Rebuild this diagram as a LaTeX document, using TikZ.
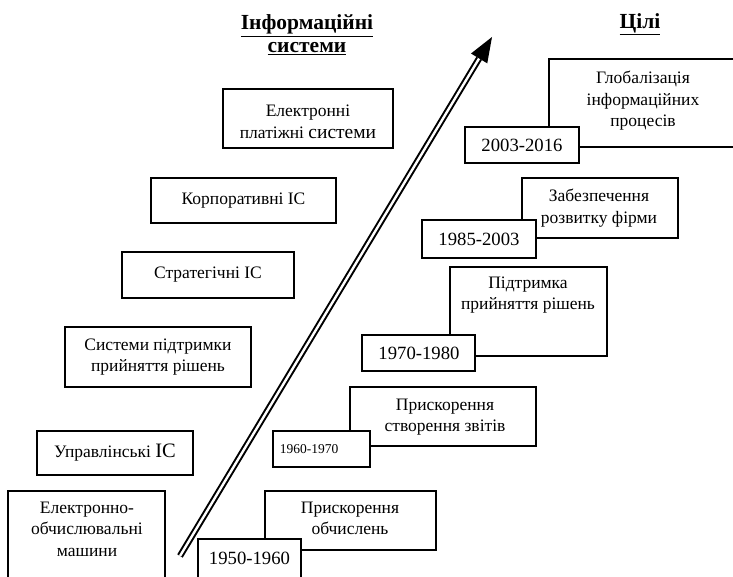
\documentclass[tikz,border=0pt]{standalone}
\usepackage{fontspec}
\setmainfont{Liberation Serif}
\usetikzlibrary{calc,fit}
\begin{document}
\begin{tikzpicture}[x=1pt,y=-1pt,
  box/.style={draw, line width=1.8pt, fill=white, rectangle, inner sep=0pt},
  txt/.style={align=center, font=\fontsize{17.5}{21.5}\selectfont, inner sep=0pt},
  datetxt/.style={font=\fontsize{18.7}{22}\selectfont, inner sep=0pt},
  smalldate/.style={font=\fontsize{13.5}{16}\selectfont, inner sep=0pt},
  head/.style={align=center, font=\fontsize{21.5}{23}\selectfont\bfseries, inner sep=0pt},
  growth/.style={line width=2pt, double distance=2.4pt}]
\useasboundingbox (0,0) rectangle (733,577);
\clip (0,0) rectangle (733,577);

% column headings
\node[head] (hIS) at (307,35) {\underline{Інформаційні}\\\underline{системи}};
\node[head] (hG) at (640,24) {\underline{Цілі}};

% information systems, bottom to top
\node[box, fit={(8,491) (165,600)}] (eom) {};
\node[txt] (eomT) at (87,529) {Електронно-\\обчислювальні\\машини};
\node[box, fit={(37,431) (193,475)}] (mis) {};
\node[txt] (misT) at (115,453) {Управлінські {\fontsize{20.5}{21}\selectfont ІС}};
\node[box, fit={(65,327) (251,387)}] (dss) {};
\node[txt] (dssT) at (158,357) {Системи підтримки\\прийняття рішень};
\node[box, fit={(122,252) (294,298)}] (strat) {};
\node[txt] (stratT) at (208,275) {Стратегічні ІС};
\node[box, fit={(151,178) (336,223)}] (corp) {};
\node[txt] (corpT) at (243.5,200.5) {Корпоративні ІС};
\node[box, fit={(223,89) (393,148)}] (eps) {};
\node[txt] (epsT) at (308,122) {Електронні\\платіжні {\fontsize{19.5}{21.5}\selectfont системи}};

% growth arrow
\coordinate (aS) at (180,556);
\coordinate (aT) at (492,37);
\coordinate (aB) at ($(aT)!25pt!(aS)$);
\draw[growth] (aS) -- (aB);
\fill ($(aB)!9.5pt!90:(aT)$) -- (aT) -- ($(aB)!9.5pt!-90:(aT)$) -- cycle;

% goals with their periods
\node[box, fit={(265,491) (436,550)}] (g1) {};
\node[txt] (g1T) at (350,518.5) {Прискорення\\обчислень};
\node[box, fit={(198,539) (301,600)}] (d1) {};
\node[datetxt] (d1T) at (249.5,558) {1950-1960};

\node[box, fit={(350,387) (536,446)}] (g2) {};
\node[txt] (g2T) at (445,417) {Прискорення\\створення звітів};
\node[box, fit={(273,431) (370,467)}] (d2) {};
\node[smalldate] (d2T) at (309,449) {1960-1970};

\node[box, fit={(450,267) (607,356)}] (g3) {};
\node[txt] (g3T) at (528,295) {Підтримка\\прийняття рішень};
\node[box, fit={(362,335) (475,371)}] (d3) {};
\node[datetxt] (d3T) at (419,353) {1970-1980};

\node[box, fit={(522,178) (678,238)}] (g4) {};
\node[txt] (g4T) at (599,208) {Забезпечення\\розвитку фірми};
\node[box, fit={(422,220) (536,258)}] (d4) {};
\node[datetxt] (d4T) at (479,239) {1985-2003};

\node[box, fit={(549,59) (745,147)}] (g5) {};
\node[txt] (g5T) at (643,101) {Глобалізація\\інформаційних\\процесів};
\node[box, fit={(465,127) (579,163)}] (d5) {};
\node[datetxt] (d5T) at (522,145) {2003-2016};
\end{tikzpicture}
\end{document}
